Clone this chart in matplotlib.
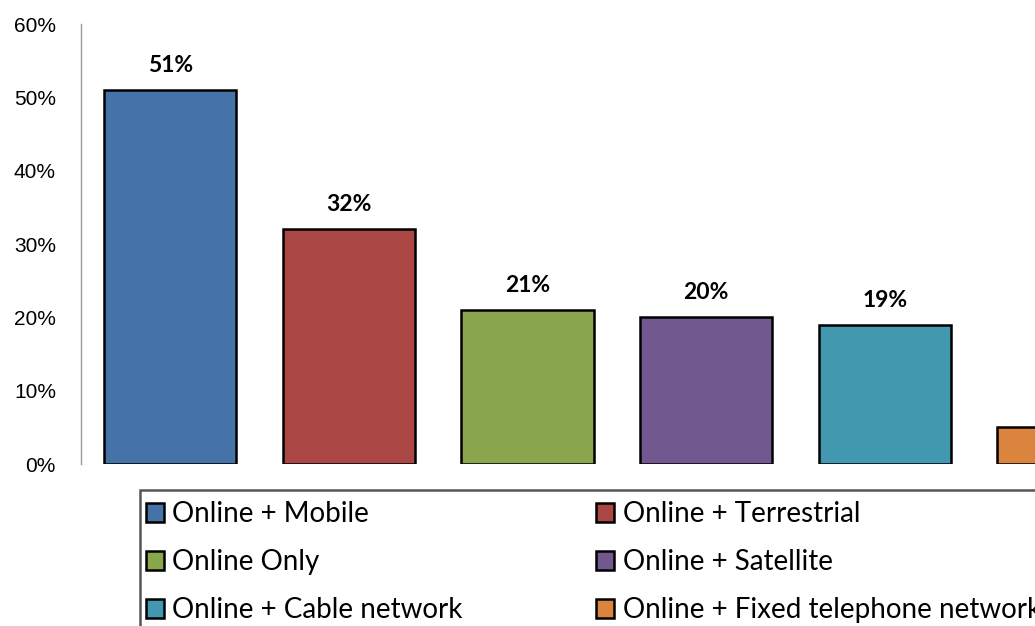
import matplotlib.pyplot as plt
from matplotlib.patches import Rectangle, Patch
from matplotlib.ticker import FuncFormatter

# Share of viewers by reception method
categories = ['Online + Mobile', 'Online + Terrestrial', 'Online Only',
              'Online + Satellite', 'Online + Cable network',
              'Online + Fixed telephone network']
values = [51, 32, 21, 20, 19, 5]
# value labels printed above the bars (last bar is cut off, no label)
labels = ['51%', '32%', '21%', '20%', '19%', '']
colors = ['#4572A7', '#AA4643', '#89A54E', '#71588F', '#4198AF', '#DB843D']
yticks = [0, 10, 20, 30, 40, 50, 60]

W, H = 1035, 626
fig = plt.figure(figsize=(W / 100, H / 100), dpi=100)

# axes run off the right edge so the last bar is cut
ax = fig.add_axes([81 / W, (H - 464) / H, 1071.6 / W, 440 / H])

x = list(range(len(values)))
bars = ax.bar(x, values, width=0.74, color=colors, edgecolor='black',
              linewidth=1.8, zorder=3)

for xi, v, lab in zip(x, values, labels):
    if lab:
        ax.text(xi, v + 1.9, lab, ha='center', va='bottom',
                fontsize=16.5, fontweight='bold', family='Lato')

ax.set_xlim(-0.5, 5.5)
ax.set_ylim(0, 60)
ax.set_yticks(yticks)
ax.yaxis.set_major_formatter(FuncFormatter(lambda v, p: f'{v:.0f}%'))
ax.tick_params(axis='y', length=0, pad=18, labelsize=15)
for lab in ax.get_yticklabels():
    lab.set_family('Liberation Sans')
ax.set_xticks([])
for s in ['top', 'right', 'bottom']:
    ax.spines[s].set_visible(False)
ax.spines['left'].set_color('#999999')
ax.spines['left'].set_linewidth(1.0)

# legend frame, cut by the figure edges
fig.patches.append(Rectangle((140 / W, -0.1), 1.0, (H - 490) / H + 0.1,
                             transform=fig.transFigure, fill=False,
                             edgecolor='#555555', linewidth=1.8))

handles = [Patch(facecolor=c, edgecolor='black', linewidth=1.8) for c in colors]
order = [0, 2, 4, 1, 3, 5]
fig.legend([handles[i] for i in order], [categories[i] for i in order],
           ncol=2, loc='upper left', bbox_to_anchor=(146 / W, (H - 501) / H),
           frameon=False, prop={'family': 'Lato', 'size': 20},
           handlelength=0.65, handleheight=0.65, handletextpad=0.3,
           labelspacing=0.8, columnspacing=4.8, borderpad=0, borderaxespad=0)

fig.savefig('out.png', dpi=100)
